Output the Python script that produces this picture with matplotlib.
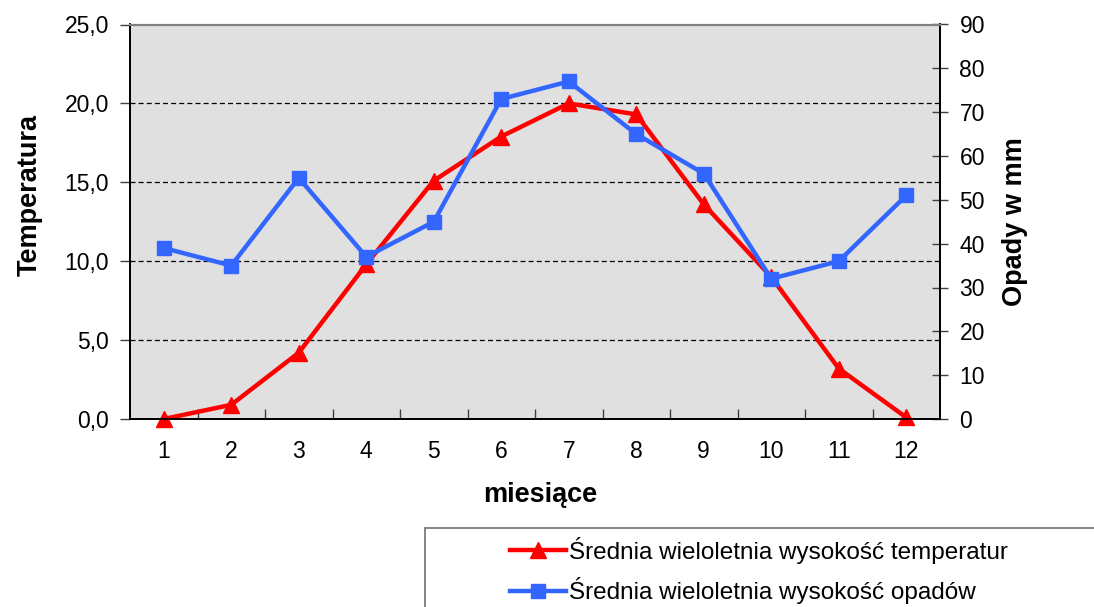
import matplotlib
matplotlib.use("Agg")
import matplotlib.pyplot as plt
from matplotlib.patches import Rectangle
from matplotlib.ticker import FuncFormatter, MultipleLocator, FixedLocator

plt.rcParams['font.family'] = ['Liberation Sans', 'DejaVu Sans']

months = [1, 2, 3, 4, 5, 6, 7, 8, 9, 10, 11, 12]
temperature = [0.0, 0.9, 4.2, 9.8, 15.1, 17.9, 20.0, 19.3, 13.6, 9.0, 3.2, 0.1]
precipitation = [39, 35, 55, 37, 45, 73, 77, 65, 56, 32, 36, 51]
label_temp = "Średnia wieloletnia wysokość temperatur"
label_prec = "Średnia wieloletnia wysokość opadów"

W, H = 1094, 607
fig = plt.figure(figsize=(W / 100, H / 100), dpi=100)
ax = fig.add_axes([130 / W, 1 - 419 / H, 810 / W, (419 - 24.5) / H])
ax.set_facecolor('#E0E0E0')

ax.set_xlim(0.5, 12.5)
ax.set_ylim(0, 25)
ax.yaxis.set_major_locator(MultipleLocator(5))
ax.yaxis.set_major_formatter(FuncFormatter(lambda v, p: f"{v:.1f}".replace('.', ',')))
for yv in [5, 10, 15, 20]:
    ax.axhline(yv, color='black', lw=0.9, ls=(0, (4, 2.5)), zorder=1)

ax.set_xticks(months)
ax.set_xticklabels([str(m) for m in months])
ax.xaxis.set_minor_locator(FixedLocator([m + 0.5 for m in months[:-1]]))
ax.tick_params(axis='x', which='major', length=0, labelsize=16.5, pad=15)
ax.tick_params(axis='x', which='minor', direction='in', length=7, width=1, color='#404040')
ax.tick_params(axis='y', direction='out', length=7, width=1, color='#404040', labelsize=16.5, pad=8)

l1, = ax.plot(months, temperature, color='#FF0000', lw=3.2, marker='^', markersize=12,
              label=label_temp, zorder=3, clip_on=False)

ax2 = ax.twinx()
ax2.set_ylim(0, 90)
ax2.yaxis.set_major_locator(MultipleLocator(10))
ax2.tick_params(axis='y', direction='inout', length=12, width=1, color='#404040', labelsize=16.5, pad=8)
l2, = ax2.plot(months, precipitation, color='#3366FF', lw=3.2, marker='s', markersize=10,
               label=label_prec, zorder=3, clip_on=False)

for a in (ax, ax2):
    a.spines['top'].set_color('#808080')
    a.spines['top'].set_linewidth(1.5)
    for s in ('left', 'right', 'bottom'):
        a.spines[s].set_color('black')
        a.spines[s].set_linewidth(1.3)

fig.text(30 / W, 1 - 195 / H, "Temperatura", rotation=90, ha='center', va='center',
         fontsize=19.5, fontweight='bold')
fig.text(1015 / W, 1 - 222 / H, "Opady w mm", rotation=90, ha='center', va='center',
         fontsize=19.5, fontweight='bold')
fig.text(540 / W, 1 - 495 / H, "miesiące", ha='center', va='center',
         fontsize=19.5, fontweight='bold')

fig.patches.append(Rectangle((425 / W, -0.1), 0.8, 1 - 528 / H + 0.1, transform=fig.transFigure,
                             fill=False, edgecolor='#707070', lw=1.2, clip_on=False))
leg = fig.legend([l1, l2], [label_temp, label_prec], loc='upper left',
                 bbox_to_anchor=(500 / W, 1 - 527 / H), frameon=False, fontsize=17.5,
                 handlelength=2.3, handletextpad=0.12, labelspacing=0.55, borderaxespad=0)

fig.savefig("out.png", dpi=100)
